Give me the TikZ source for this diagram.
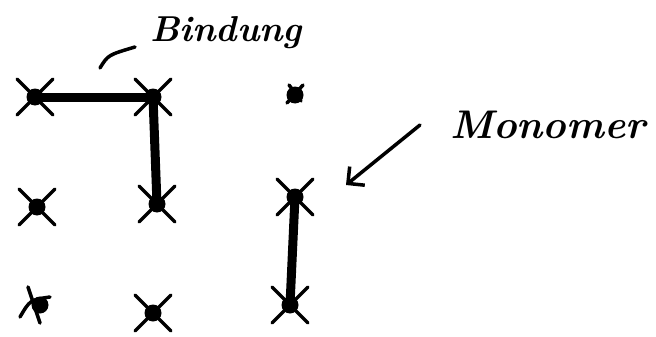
\documentclass[tikz,border=0pt]{standalone}
\usepackage{fontspec}
\usetikzlibrary{arrows.meta}
\begin{document}
\begin{tikzpicture}[x=1pt,y=-1pt,
  mono/.style={circle,fill=black,inner sep=0pt,minimum size=17pt},
  stroke/.style={line width=3.5pt,line cap=round,line join=round},
  bond/.style={line width=9pt,line cap=round},
  lbl/.style={font=\fontsize{36}{38}\selectfont\bfseries\itshape,inner sep=0pt}]
\useasboundingbox (0,0) rectangle (656,337);
% monomers
\node[mono] (a1) at (35,97) {};
\node[mono] (a2) at (153,97) {};
\node[mono] (a3) at (295,95) {};
\node[mono] (b1) at (37,207) {};
\node[mono] (b2) at (157,204) {};
\node[mono] (b3) at (295,197) {};
\node[mono] (c1) at (40,305) {};
\node[mono] (c2) at (153,313) {};
\node[mono] (c3) at (290,305) {};
% crosses
\foreach \n in {a1,a2,b1,b2,b3,c2,c3}{
  \draw[stroke] ([shift={(-18,-18)}]\n.center) -- ([shift={(18,18)}]\n.center);
  \draw[stroke] ([shift={(-18,18)}]\n.center) -- ([shift={(18,-18)}]\n.center);
}
\draw[stroke] ([shift={(-8,8)}]a3.center) -- ([shift={(8,-10)}]a3.center);
\draw[stroke] ([shift={(-6,-10)}]a3.center) -- ([shift={(6,6)}]a3.center);
\draw[stroke] ([shift={(-12,-18)}]c1.center) -- ([shift={(0,18)}]c1.center);
\draw[stroke] ([shift={(-20,12)}]c1.center) .. controls ([shift={(-10,-5)}]c1.center) .. ([shift={(10,-8)}]c1.center);
% bonds
\draw[bond] (a1.center) -- (a2.center);
\draw[bond] (a2.center) -- (b2.center);
\draw[bond] (b3.center) -- (c3.center);
% labels
\node[lbl,anchor=west] (bind) at (150,33) {Bindung};
\coordinate (bs) at (100,68);
\draw[stroke] (bs) .. controls (108,55) .. (135,47);
\node[lbl,anchor=west,font=\fontsize{40}{42}\selectfont\bfseries\itshape] (mon) at (450,125) {Monomer};
\coordinate (ms) at (420,125);
\draw[stroke,-{Straight Barb[length=12pt,width=24pt]}] (ms) -- (346,185);
\end{tikzpicture}
\end{document}
